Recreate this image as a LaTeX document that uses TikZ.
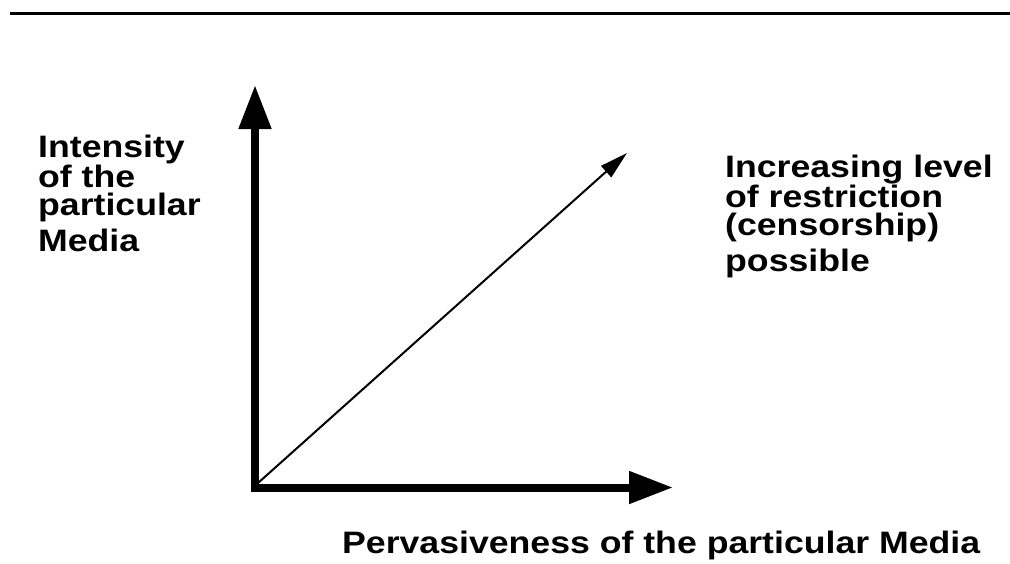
\documentclass[tikz,border=0pt]{standalone}
\usepackage{fontspec}
\newfontfamily\lblfont[FakeStretch=1.15]{Liberation Sans}
\usetikzlibrary{arrows.meta}
\begin{document}
\begin{tikzpicture}[x=1pt,y=-1pt,
  lbl/.style={inner sep=0pt,align=left,anchor=base west,
    font=\lblfont\bfseries\fontsize{31}{27.5}\selectfont},
  axis/.style={line width=8pt,-{Triangle[length=44pt,width=31pt]}},
  diag/.style={line width=2pt,-{Triangle[length=28pt,width=15pt]}}]
\useasboundingbox (0,0) rectangle (1010,563);
\fill (10,12) rectangle (1010,15);
\coordinate (O) at (255,487.5);
\coordinate (corner) at (251,491.5);
\coordinate (ytip) at (255,85);
\coordinate (xtip) at (673,487.5);
\coordinate (dstart) at (258,483);
\coordinate (dtip) at (627,153);
\draw[axis] (255,491.5) -- (ytip);
\draw[axis] (corner |- O) -- (xtip);
\draw[diag] (dstart) -- (dtip);
\node[lbl] (ylab) at (38,251) {Intensity\\of the\\particular\\[6pt]Media};
\node[lbl] (dlab) at (725,271) {Increasing level\\of restriction\\(censorship)\\[6pt]possible};
\node[lbl] (xlab) at (342,553) {Pervasiveness of the particular Media};
\end{tikzpicture}
\end{document}
